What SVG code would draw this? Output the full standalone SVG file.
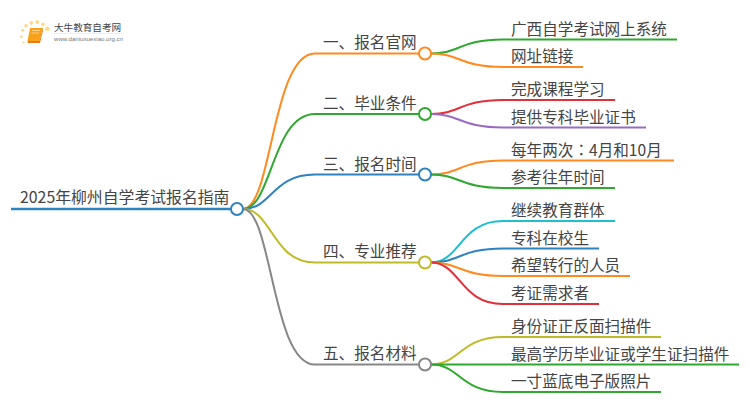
<svg xmlns="http://www.w3.org/2000/svg" width="750" height="410" viewBox="0 0 750 410">
<style>
text{font-family:"Noto Sans CJK SC","Liberation Sans",sans-serif;fill:#444;font-size:15.6px}
.c{fill:none;stroke-width:2}
.n{fill:#fff;stroke-width:2}
.or{stroke:#ff8a1f}.gr{stroke:#2fa82f}.bl{stroke:#2e82bf}.ol{stroke:#bfbb28}.gy{stroke:#878787}.rd{stroke:#e0303a}.pu{stroke:#9a6bc4}.cy{stroke:#1fbfd0}
.d{fill:#fdd98a;stroke:none}
</style>
<rect width="750" height="410" fill="#fff"/>
<g id="logo">
<circle class="d" cx="47.300" cy="28.800" r="2.300"/><circle class="d" cx="43" cy="24.300" r="1.800"/><circle class="d" cx="37.300" cy="22" r="2"/><circle class="d" cx="31.300" cy="22.800" r="1.900"/><circle class="d" cx="26" cy="25.700" r="1.700"/><circle class="d" cx="22.700" cy="30.300" r="1.500"/><circle class="d" cx="21.400" cy="36.700" r="1.300"/><circle class="d" cx="23.400" cy="42.300" r="1.100"/>
<path d="M30 28H43L39.500 41H27.500Z" fill="#f6a21b"/>
<path d="M27.500 41H39.500L43 28V30.500L40 43H28Z" fill="#e9791a"/>
<path d="M32 30.500H40M31.500 33H39" stroke="#fff0c8" stroke-width="0.600"/>
<text x="54" y="30.500" style="font-size:9.600px">大牛教育自考网</text>
<path d="M54 33.500H120" stroke="#ddd" stroke-width="0.500"/>
<text x="54" y="41" textLength="69" lengthAdjust="spacingAndGlyphs" style="font-size:6px;fill:#777;font-family:'Liberation Sans',sans-serif">www.daniuxuexiao.org.cn</text>
</g>
<g id="connectors">
<path class="c bl" style="stroke-width:2.400" d="M11 209H237"/>
<path class="c or" d="M243 209C272 209 272 53.500 315 53.500H425"/>
<path class="c gr" d="M243 209C272 209 272 114 315 114H425"/>
<path class="c bl" d="M243 209C272 209 272 174.500 315 174.500H425"/>
<path class="c ol" d="M243 209C272 209 272 262.500 315 262.500H425"/>
<path class="c gy" d="M243 209C272 209 272 364.500 315 364.500H425"/>
<path class="c gr" d="M431 53.500C460 53.500 460 39.500 503 39.500H677"/>
<path class="c or" d="M431 53.500C460 53.500 460 67 503 67H583"/>
<path class="c rd" d="M431 114C460 114 460 100 503 100H615"/>
<path class="c pu" d="M431 114C460 114 460 127.500 503 127.500H646"/>
<path class="c or" d="M431 174.500C460 174.500 460 160.500 503 160.500H674"/>
<path class="c gr" d="M431 174.500C460 174.500 460 188 503 188H615"/>
<path class="c cy" d="M431 262.500C460 262.500 460 221 503 221H615"/>
<path class="c bl" d="M431 262.500C460 262.500 460 248.500 503 248.500H599"/>
<path class="c or" d="M431 262.500C460 262.500 460 276 503 276H630"/>
<path class="c rd" d="M431 262.500C460 262.500 460 304 503 304H599"/>
<path class="c ol" d="M431 364.500C460 364.500 460 337 503 337H661"/>
<path class="c gr" d="M431 364.500H739"/>
<path class="c gr" d="M431 364.500C460 364.500 460 392 503 392H661"/>
</g>
<g id="root"><text x="20" y="202.500" style="font-size:15.850px">2025年柳州自学考试报名指南</text><circle class="n bl" cx="237" cy="209" r="6"/></g>
<g id="b1"><text x="323" y="48">一、报名官网</text><circle class="n or" cx="425" cy="53.500" r="6"/></g>
<g id="b2"><text x="323" y="109">二、毕业条件</text><circle class="n gr" cx="425" cy="114" r="6"/></g>
<g id="b3"><text x="323" y="169.500">三、报名时间</text><circle class="n bl" cx="425" cy="174.500" r="6"/></g>
<g id="b4"><text x="323" y="257">四、专业推荐</text><circle class="n ol" cx="425" cy="262.500" r="6"/></g>
<g id="b5"><text x="323" y="359">五、报名材料</text><circle class="n gy" cx="425" cy="364.500" r="6"/></g>
<g id="l1"><text x="511" y="34.500">广西自学考试网上系统</text></g>
<g id="l2"><text x="511" y="62">网址链接</text></g>
<g id="l3"><text x="511" y="95">完成课程学习</text></g>
<g id="l4"><text x="511" y="122.500">提供专科毕业证书</text></g>
<g id="l5"><text x="511" y="155.500">每年两次<tspan font-family="Noto Sans CJK TC">：</tspan>4月和10月</text></g>
<g id="l6"><text x="511" y="183">参考往年时间</text></g>
<g id="l7"><text x="511" y="216">继续教育群体</text></g>
<g id="l8"><text x="511" y="243.500">专科在校生</text></g>
<g id="l9"><text x="511" y="271">希望转行的人员</text></g>
<g id="l10"><text x="511" y="299">考证需求者</text></g>
<g id="l11"><text x="511" y="332">身份证正反面扫描件</text></g>
<g id="l12"><text x="511" y="359.500">最高学历毕业证或学生证扫描件</text></g>
<g id="l13"><text x="511" y="387">一寸蓝底电子版照片</text></g>
</svg>
